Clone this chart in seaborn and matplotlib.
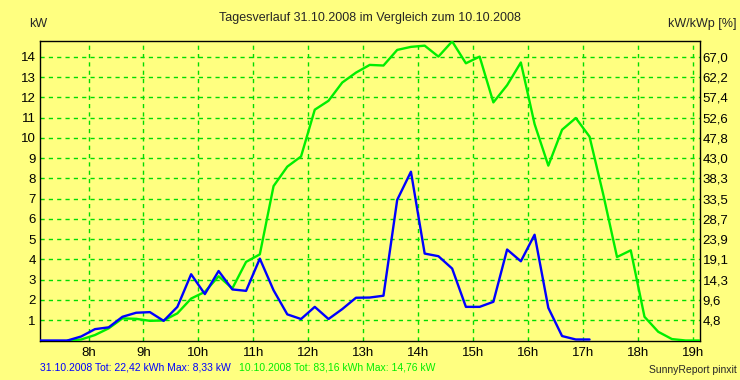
import matplotlib
matplotlib.use('Agg')
import matplotlib.pyplot as plt
import seaborn as sns
import pandas as pd
import numpy as np

# ---- data ----
times = ["07:07", "07:22", "07:37", "07:52", "08:07", "08:22", "08:37", "08:52",
         "09:07", "09:22", "09:37", "09:52", "10:07", "10:22", "10:37", "10:52",
         "11:07", "11:22", "11:37", "11:52", "12:07", "12:22", "12:37", "12:52",
         "13:07", "13:22", "13:37", "13:52", "14:07", "14:22", "14:37", "14:52",
         "15:07", "15:22", "15:37", "15:52", "16:07", "16:22", "16:37", "16:52",
         "17:07", "17:22", "17:37", "17:52", "18:07", "18:22", "18:37", "18:52",
         "19:07"]

day1_label = "31.10.2008"
day1_kw = [0, 0, 0, 0.2, 0.56, 0.65, 1.17, 1.37, 1.40, 0.97, 1.66, 3.27, 2.29,
           3.43, 2.52, 2.45, 4.04, 2.48, 1.29, 1.06, 1.66, 1.06, 1.55, 2.11,
           2.12, 2.21, 6.94, 8.33, 4.29, 4.16, 3.55, 1.66, 1.66, 1.91, 4.49,
           3.91, 5.22, 1.61, 0.22, 0.05, 0.05,
           None, None, None, None, None, None, None, None]

day2_label = "10.10.2008"
day2_kw = [None, None, 0, 0.05, 0.27, 0.6, 1.09, 1.07, 0.97, 0.99, 1.34, 2.07,
           2.4, 3.17, 2.57, 3.88, 4.25, 7.62, 8.58, 9.08, 11.39, 11.83, 12.73,
           13.22, 13.6, 13.57, 14.34, 14.49, 14.55, 14.01, 14.76, 13.68, 14.01,
           11.75, 12.6, 13.72, 10.68, 8.63, 10.40, 10.98, 10.06, 7.2, 4.12,
           4.45, 1.17, 0.43, 0.07, 0, 0]

hour_ticks = [8, 9, 10, 11, 12, 13, 14, 15, 16, 17, 18, 19]
hour_labels = ["8h", "9h", "10h", "11h", "12h", "13h", "14h", "15h", "16h",
               "17h", "18h", "19h"]
kw_ticks = [1, 2, 3, 4, 5, 6, 7, 8, 9, 10, 11, 12, 13, 14]
pct_labels = ["4,8", "9,6", "14,3", "19,1", "23,9", "28,7", "33,5", "38,3",
              "43,0", "47,8", "52,6", "57,4", "62,2", "67,0"]

title = "Tagesverlauf 31.10.2008 im Vergleich zum 10.10.2008"
info1 = "31.10.2008 Tot: 22,42 kWh Max: 8,33 kW"
info2 = "10.10.2008 Tot: 83,16 kWh Max: 14,76 kW"

# ---- styling ----
BG = "#ffff80"
BLUE = "#0000ff"
GREEN = "#00ee00"
GRID = "#00dd00"

sns.set_style("white")
plt.rcParams['font.family'] = ['Liberation Sans', 'DejaVu Sans']

hours = [int(t[:2]) + int(t[3:]) / 60 for t in times]
df = pd.DataFrame({
    "time": hours * 2,
    "kW": pd.array(day1_kw + day2_kw, dtype="Float64").astype(float),
    "day": [day1_label] * len(hours) + [day2_label] * len(hours),
})

fig = plt.figure(figsize=(7.4, 3.8), dpi=100, facecolor=BG)
ax = fig.add_axes([40 / 740, 39.5 / 380, 660 / 740, 299.5 / 380])
ax.set_facecolor(BG)

sns.lineplot(data=df, x="time", y="kW", hue="day",
             hue_order=[day2_label, day1_label],
             palette={day1_label: BLUE, day2_label: GREEN},
             estimator=None, legend=False, lw=1.7, ax=ax, zorder=3)

ax.set_xlim(hours[0], hours[-1] + 0.01)
ax.set_ylim(0, 14.78)
ax.set_xticks(hour_ticks)
ax.set_xticklabels(hour_labels)
ax.set_yticks(kw_ticks)
ax.set_yticklabels([str(v) for v in kw_ticks])
ax.set_xlabel("")
ax.set_ylabel("")
ax.grid(True, color=GRID, linestyle=(0, (3, 3)), linewidth=1, zorder=1)
ax.tick_params(axis='both', length=0, labelsize=9.5, colors='black')
ax.tick_params(axis='x', pad=5)
ax.tick_params(axis='y', pad=3)
for s in ax.spines.values():
    s.set_color('black')
    s.set_linewidth(1)
    s.set_visible(True)

ax2 = ax.twinx()
ax2.set_ylim(ax.get_ylim())
ax2.set_yticks(kw_ticks)
ax2.set_yticklabels(pct_labels)
ax2.tick_params(axis='y', length=0, labelsize=9.5, pad=2, colors='black')
for s in ax2.spines.values():
    s.set_visible(False)

fig.text(370 / 740, 1 - 18 / 380, title, ha='center', va='center', fontsize=9)
fig.text(29 / 740, 1 - 24 / 380, "kW", ha='left', va='center', fontsize=9)
fig.text(737 / 740, 1 - 24 / 380, "kW/kWp [%]", ha='right', va='center', fontsize=9)

fig.text(40 / 740, 1 - 368 / 380, info1, ha='left', va='center', fontsize=7.5, color=BLUE)
fig.text(239 / 740, 1 - 368 / 380, info2, ha='left', va='center', fontsize=7.5, color=GREEN)
fig.text(737 / 740, 1 - 370 / 380, "SunnyReport pinxit", ha='right', va='center', fontsize=7.5)

fig.savefig("out.png", dpi=100, facecolor=BG)
